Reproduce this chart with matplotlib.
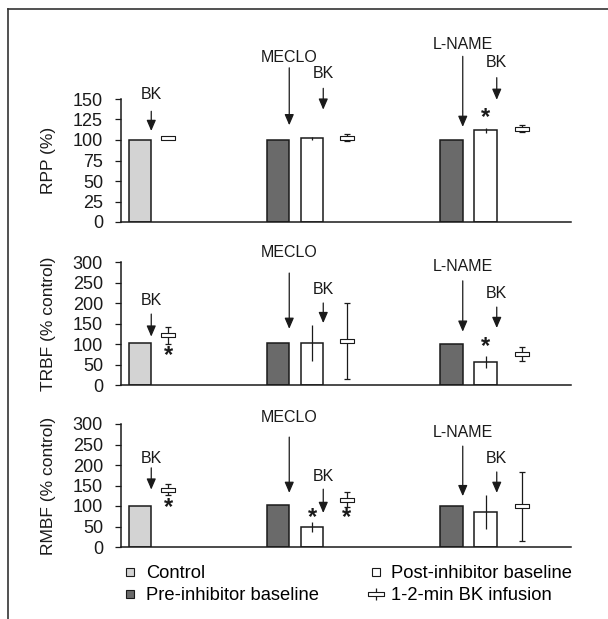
import numpy as np
import matplotlib.pyplot as plt
from matplotlib.path import Path
from matplotlib.lines import Line2D

plt.rcParams['font.family'] = ['Liberation Sans', 'DejaVu Sans']

# group layout on a 0-450 x scale
bar_w = 22.5
x_ctrl = 19
x_pre = [157, 330.5]
x_post = [191, 364.5]
x_bk = [47, 226, 401]

# RPP (%)
rpp_ctrl = 100
rpp_pre = [100, 100]
rpp_post = [102, 112]
rpp_post_err = [2, 3]
rpp_bk = [102, 103, 114]
rpp_bk_err = [1, 4, 4]

# TRBF (% control)
trbf_ctrl = 102
trbf_pre = [103, 100]
trbf_post = [102, 56]
trbf_post_err = [44, 15]
trbf_bk = [121, 107, 75]
trbf_bk_err = [20, 92, 17]

# RMBF (% control)
rmbf_ctrl = 100
rmbf_pre = [103, 100]
rmbf_post = [49, 85]
rmbf_post_err = [12, 42]
rmbf_bk = [140, 115, 99]
rmbf_bk_err = [13, 18, 84]

ylabels = ['RPP (%)', 'TRBF (% control)', 'RMBF (% control)']
ymax = [150, 300, 300]
ystep = [25, 50, 50]

# arrows: (x, label, text y, tail y, tip y) in data units
ctrl_edge = x_ctrl + bar_w / 2
pre_edge = [x + bar_w / 2 for x in x_pre]
post_edge = [x + bar_w / 2 for x in x_post]
arrows = [
    [(ctrl_edge, 'BK', 155, 135, 111), (pre_edge[0], 'MECLO', 200, 188, 118),
     (post_edge[0], 'BK', 181, 163, 137), (pre_edge[1], 'L-NAME', 217, 202, 116),
     (post_edge[1], 'BK', 194, 176, 149)],
    [(ctrl_edge, 'BK', 205, 173, 118), (pre_edge[0], 'MECLO', 322, 273, 137),
     (post_edge[0], 'BK', 234, 200, 151), (pre_edge[1], 'L-NAME', 290, 254, 130),
     (post_edge[1], 'BK', 222, 190, 139)],
    [(ctrl_edge, 'BK', 215, 193, 140), (pre_edge[0], 'MECLO', 317, 268, 132),
     (post_edge[0], 'BK', 171, 141, 83), (pre_edge[1], 'L-NAME', 280, 246, 124),
     (post_edge[1], 'BK', 215, 183, 132)],
]
# significance stars: (x, y)
stars = [
    [(x_post[1], 128)],
    [(x_bk[0], 73), (x_post[1], 94)],
    [(x_bk[0], 97), (x_post[0], 71), (x_bk[1], 73)],
]

panels = [
    (rpp_ctrl, rpp_pre, rpp_post, rpp_post_err, rpp_bk, rpp_bk_err),
    (trbf_ctrl, trbf_pre, trbf_post, trbf_post_err, trbf_bk, trbf_bk_err),
    (rmbf_ctrl, rmbf_pre, rmbf_post, rmbf_post_err, rmbf_bk, rmbf_bk_err),
]

ink = '#1a1a1a'
c_ctrl = '#d3d3d3'
c_pre = '#6a6a6a'
box = Path([(-1, -0.25), (1, -0.25), (1, 0.25), (-1, 0.25), (-1, -0.25)],
           [Path.MOVETO, Path.LINETO, Path.LINETO, Path.LINETO, Path.CLOSEPOLY])

fig = plt.figure(figsize=(6.08, 6.19), dpi=100)
W, H = 608, 619
ax_px = [(99, 222), (262, 385), (424, 547)]

for i, (ctrl, pre, post, post_err, bk, bk_err) in enumerate(panels):
    top, bot = ax_px[i]
    ax = fig.add_axes([121 / W, 1 - bot / H, 450 / W, (bot - top) / H])
    ax.bar(x_ctrl, ctrl, bar_w, color=c_ctrl, edgecolor=ink, lw=1.1)
    ax.bar(x_pre, pre, bar_w, color=c_pre, edgecolor=ink, lw=1.1)
    ax.bar(x_post, post, bar_w, color='white', edgecolor=ink, lw=1.1)
    ax.errorbar(x_post, post, yerr=post_err, fmt='none', ecolor=ink,
                elinewidth=0.9, capsize=0, zorder=3)
    ax.errorbar(x_bk, bk, yerr=bk_err, fmt='none', ecolor=ink,
                elinewidth=0.9, capsize=2.5, capthick=0.9, zorder=3)
    ax.plot(x_bk, bk, ls='none', marker=box, ms=10, mfc='white', mec=ink,
            mew=0.8, zorder=4)

    for x, lab, ty, y0, y1 in arrows[i]:
        ax.annotate('', xy=(x, y1), xytext=(x, y0), annotation_clip=False,
                    arrowprops=dict(arrowstyle='-|>,head_length=0.65,head_width=0.28',
                                    mutation_scale=10, color=ink, lw=0.9,
                                    shrinkA=0, shrinkB=0))
        ax.text(x, ty, lab, ha='center', va='center', fontsize=11.5, color=ink,
                clip_on=False)
    for x, y in stars[i]:
        ax.text(x, y, '*', ha='center', va='center', fontsize=17, color=ink,
                fontweight='bold', clip_on=False)

    ax.set_xlim(0, 450)
    ax.set_ylim(0, ymax[i])
    ax.set_yticks(np.arange(0, ymax[i] + 1, ystep[i]))
    ax.tick_params(axis='y', length=4, width=0.9, pad=9, labelsize=13,
                   colors=ink)
    ax.set_xticks([])
    for s in ['top', 'right']:
        ax.spines[s].set_visible(False)
    for s in ['left', 'bottom']:
        ax.spines[s].set_linewidth(1.1)
        ax.spines[s].set_color(ink)
    ax.set_ylabel(ylabels[i], fontsize=12.5, color=ink)
    ax.yaxis.set_label_coords(-0.145, 0.5)
    ax.patch.set_alpha(0)

# legend
bk_handle = (Line2D([], [], ls='none', marker='|', ms=8, mec=ink, mew=0.9),
             Line2D([], [], ls='none', marker=box, ms=11, mfc='white', mec=ink,
                    mew=0.8))
handles = [
    Line2D([], [], ls='none', marker='s', ms=6, mfc=c_ctrl, mec=ink, mew=0.8),
    Line2D([], [], ls='none', marker='s', ms=6, mfc=c_pre, mec=ink, mew=0.8),
    Line2D([], [], ls='none', marker='s', ms=6, mfc='white', mec=ink, mew=0.8),
    bk_handle,
]
labels = ['Control', 'Pre-inhibitor baseline', 'Post-inhibitor baseline',
          '1-2-min BK infusion']
fig.legend(handles, labels, loc='upper left', bbox_to_anchor=(121 / W, 1 - 565 / H),
           ncol=2, frameon=False, fontsize=13.2, handlelength=1.0,
           handletextpad=0.35, columnspacing=2.6, labelspacing=0.3,
           borderpad=0, borderaxespad=0)

# outer frame (left and top edges)
fig.add_artist(Line2D([8 / W, 8 / W], [0, 1 - 9 / H], transform=fig.transFigure,
                      color='#333333', lw=1.2))
fig.add_artist(Line2D([8 / W, 1], [1 - 9 / H, 1 - 9 / H], transform=fig.transFigure,
                      color='#333333', lw=1.2))

fig.savefig('out.png', dpi=100)
